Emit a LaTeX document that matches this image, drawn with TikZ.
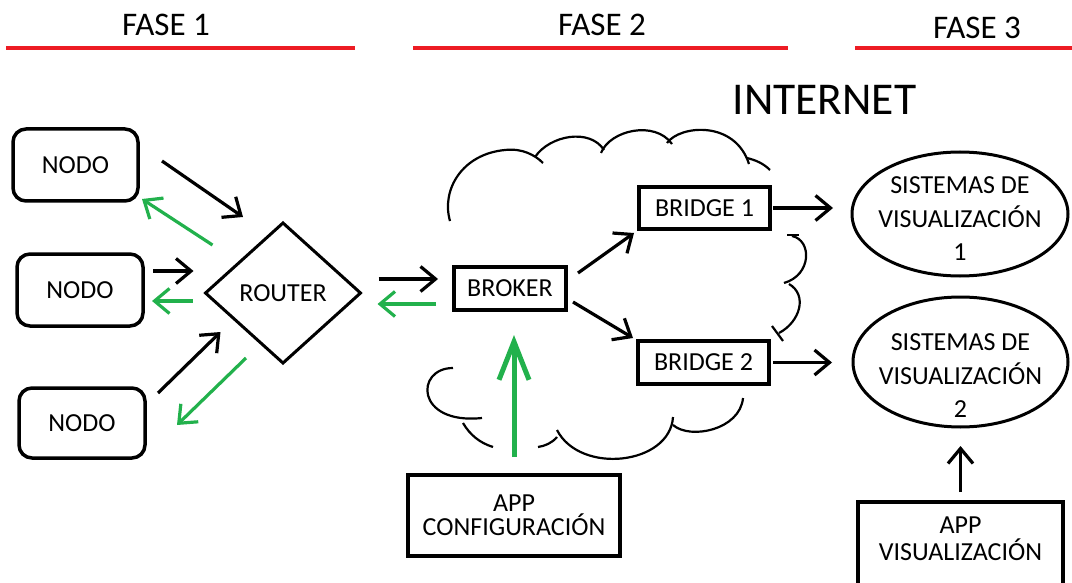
\documentclass[tikz,border=0pt]{standalone}
\usepackage{fontspec}
\setmainfont{Carlito}
\usetikzlibrary{shapes.geometric,arrows.meta}
\definecolor{verde}{RGB}{34,177,76}
\definecolor{rojo}{RGB}{237,28,36}
\begin{document}
\begin{tikzpicture}[x=1pt,y=-1pt,
    caja/.style={draw,line width=3.5pt,outer sep=0pt,inner sep=0pt,font=\fontsize{26}{31}\selectfont},
    texto/.style={align=center,font=\fontsize{26}{33.5}\selectfont},
    flecha/.style={line width=3.2pt,-{Straight Barb[length=15pt,width=25pt]}},
    fase/.style={font=\fontsize{33}{40}\selectfont}]
    \useasboundingbox (0,0) rectangle (1072,583);

    % fases
    \node[fase] (f1) at (166,25) {FASE 1};
    \node[fase] (f2) at (602,25) {FASE 2};
    \node[fase] (f3) at (977,27.5) {FASE 3};
    \draw[rojo,line width=3.5pt] (6,48)--(355,48);
    \draw[rojo,line width=3.5pt] (413,48)--(788,48);
    \draw[rojo,line width=3.5pt] (855,48)--(1072,48);
    \node[font=\fontsize{45.5}{55}\selectfont] (inet) at (824.5,99.5) {INTERNET};

    % nube
    \draw[line width=2.2pt] (450,221) .. controls (441,190) and (462,154) .. (505,150)
        .. controls (522,148) and (535,155) .. (543,163);
    \draw[line width=2.2pt] (535,157) .. controls (550,135) and (590,128) .. (604,150);
    \draw[line width=2.2pt] (601,153) .. controls (610,130) and (655,120) .. (672,144);
    \draw[line width=2.2pt] (667,143) .. controls (680,125) and (735,120) .. (749,164);
    \draw[line width=2.2pt] (747,158) .. controls (755,160) and (763,163) .. (770,170);
    \draw[line width=2.2pt] (787,235)--(799,235);
    \draw[line width=2.2pt] (792,236) .. controls (812,240) and (812,275) .. (784,283);
    \draw[line width=2.2pt] (789,284) .. controls (808,295) and (800,322) .. (779,333);
    \draw[line width=2.2pt] (772,326)--(783,341);
    \draw[line width=2.2pt] (743,398) .. controls (740,430) and (690,440) .. (673,425);
    \draw[line width=2.2pt] (673,417) .. controls (670,465) and (580,475) .. (557,430);
    \draw[line width=2.2pt] (557,437) .. controls (552,443) and (545,446) .. (538,447);
    \draw[line width=2.2pt] (453,368) .. controls (415,368) and (415,425) .. (482,418);
    \draw[line width=2.2pt] (463,423) .. controls (470,435) and (480,443) .. (493,447);

    % fase 1
    \node[caja,rounded corners=13pt,minimum width=125pt,minimum height=72pt] (nodo1) at (75.5,165) {NODO};
    \node[caja,rounded corners=13pt,minimum width=126pt,minimum height=72pt] (nodo2) at (80,290) {NODO};
    \node[caja,rounded corners=13pt,minimum width=126pt,minimum height=70pt] (nodo3) at (82,423) {NODO};
    \node[caja,diamond,line width=3pt,minimum width=155pt,minimum height=140pt] (router) at (283,293) {ROUTER};

    % fase 2
    \node[caja,minimum width=112pt,minimum height=43pt] (broker) at (510,288.5) {BROKER};
    \node[caja,minimum width=131pt,minimum height=42pt] (bridge1) at (704.5,208) {BRIDGE 1};
    \node[caja,minimum width=131pt,minimum height=43pt] (bridge2) at (703.5,362.5) {BRIDGE 2};
    \node[caja,align=center,font=\fontsize{26}{24.5}\selectfont,minimum width=212pt,minimum height=81pt] (appc) at (514,515.5) {APP\\CONFIGURACIÓN};

    % fase 3
    \node[draw,ellipse,line width=3pt,outer sep=0pt,minimum width=216pt,minimum height=124pt,
        label={[texto,yshift=-5pt]center:{SISTEMAS DE\\VISUALIZACIÓN\\1}}] (sis1) at (960,214) {};
    \node[draw,ellipse,line width=3pt,outer sep=0pt,minimum width=215pt,minimum height=130pt,
        label={[texto,yshift=-14pt]center:{SISTEMAS DE\\VISUALIZACIÓN\\2}}] (sis2) at (960.5,362) {};
    \node[caja,minimum width=205pt,minimum height=88pt,
        label={[align=center,font=\fontsize{26}{27}\selectfont,yshift=7.5pt]center:{APP\\VISUALIZACIÓN}}] (appv) at (960.5,546) {};

    % flechas
    \draw[flecha] ([shift={(24pt,4pt)}]nodo1.east) -- ([shift={(-40pt,6pt)}]router.north);
    \draw[flecha,verde] ([shift={(7pt,48pt)}]router.west) -- ([shift={(4pt,2pt)}]nodo1.south east);
    \draw[flecha] ([shift={(10pt,19pt)}]nodo2.east) -- ([shift={(-12pt,22pt)}]router.west);
    \draw[flecha,verde] ([shift={(-13pt,-8pt)}]router.west) -- ([shift={(9pt,-11pt)}]nodo2.east);
    \draw[flecha] ([shift={(13pt,-5pt)}]nodo3.north east) -- ([shift={(15pt,-39pt)}]router.west);
    \draw[flecha,verde] ([shift={(-37pt,5pt)}]router.south) -- ([shift={(32pt,-2pt)}]nodo3.east);
    \draw[flecha] ([shift={(18pt,14pt)}]router.east) -- ([shift={(-16pt,9.5pt)}]broker.west);
    \draw[flecha,verde] ([shift={(-18pt,-15.5pt)}]broker.west) -- ([shift={(17pt,-11pt)}]router.east);
    \draw[flecha] ([shift={(12pt,-6pt)}]broker.north east) -- ([shift={(-5pt,-25pt)}]bridge1.west);
    \draw[flecha] ([shift={(7pt,8pt)}]broker.south east) -- ([shift={(-5pt,24.5pt)}]bridge2.west);
    \draw[flecha,shorten <=3pt,shorten >=19pt] (bridge1.east) -- (bridge1.east -| sis1.west);
    \draw[flecha,shorten <=4pt,shorten >=21pt] (bridge2.east) -- (bridge2.east -| sis2.west);
    \draw[verde,line width=5pt,-{Straight Barb[length=38pt,width=30pt]},shorten <=18pt,shorten >=25pt] (appc.north) -- (appc.north |- broker.south);
    \draw[flecha,shorten <=10pt,shorten >=19pt] (appv.north) -- (appv.north |- sis2.south);
\end{tikzpicture}
\end{document}
